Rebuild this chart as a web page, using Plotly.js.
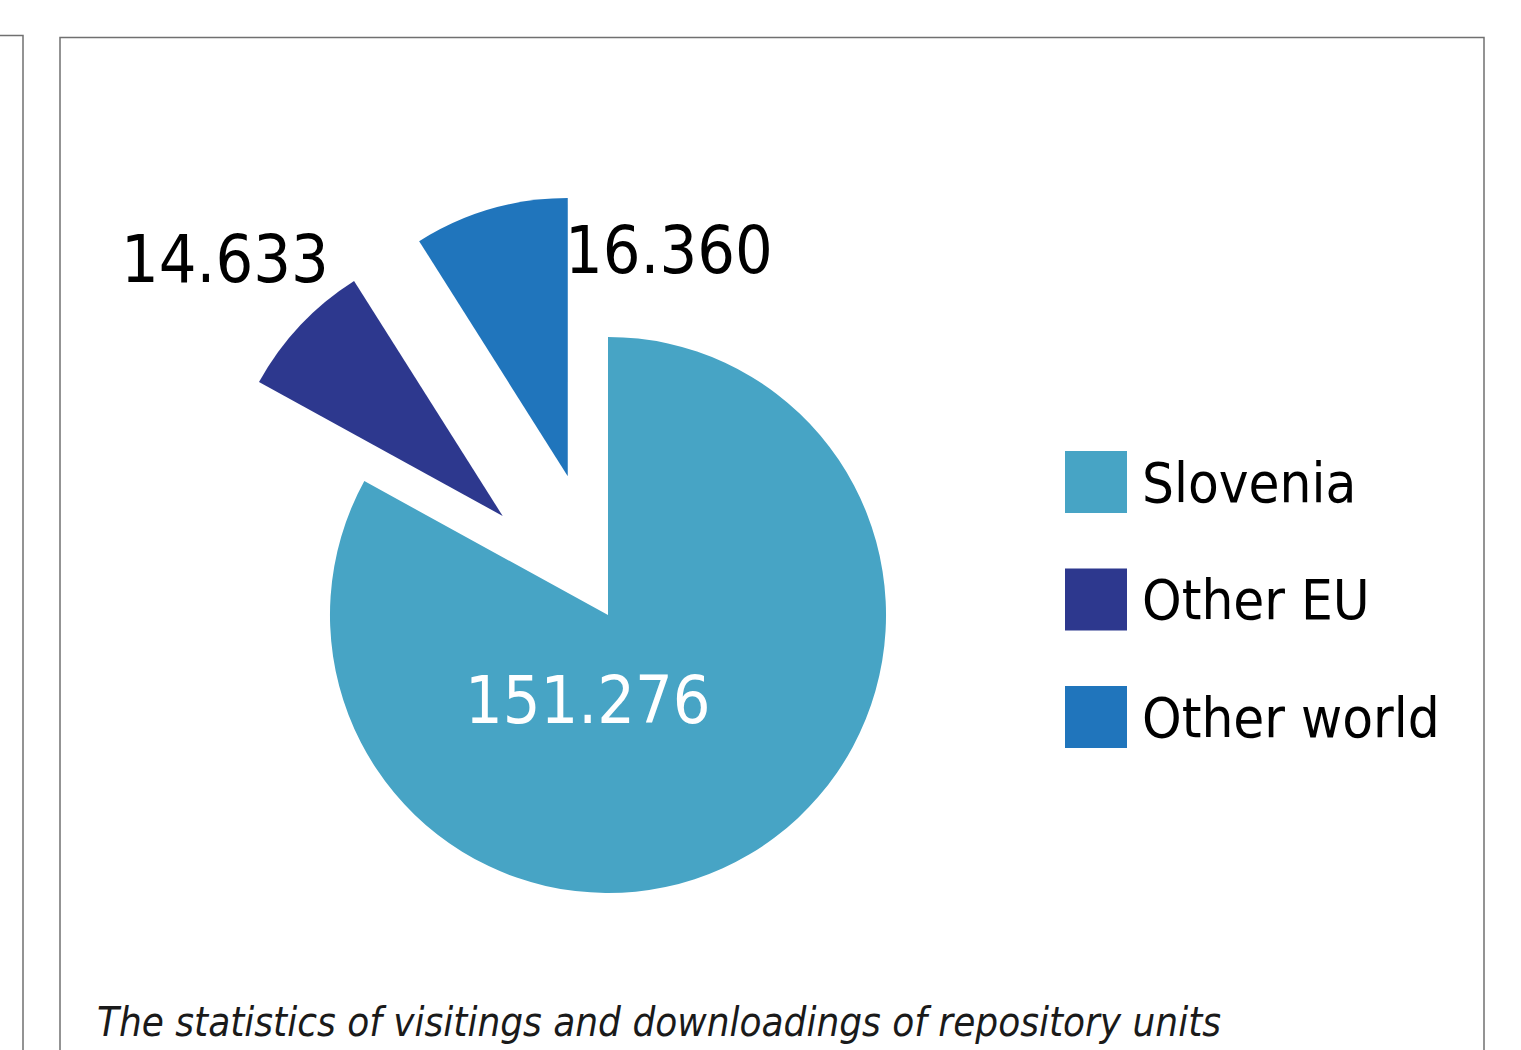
<!DOCTYPE html>
<html><head><meta charset="utf-8">
<script src="https://cdn.plot.ly/plotly-3.0.1.min.js"></script>
<style>html,body{margin:0;padding:0;background:#fff;overflow:hidden;} #chart{width:1521px;height:1050px;}</style>
</head><body><div id="chart"></div>
<script>
// ---- data ----
const categories = ['Slovenia', 'Other EU', 'Other world'];
const values = [151276, 14633, 16360];
const colors = ['#47A4C5', '#2D388E', '#2075BC'];
const pulls = [0, 0.52, 0.52];
const caption = 'The statistics of visitings and downloadings of repository units';

// ---- layout helpers ----
const W = 1521, H = 1050;
const px = x => x / W, py = y => 1 - y / H;
function fmt(v) { return String(v).replace(/\B(?=(\d{3})+(?!\d))/g, '.'); }
const FONT = '"Liberation Sans Narrow","DejaVu Sans Condensed","Arial Narrow",sans-serif';

// pie geometry (center and half-size of domain in pixels)
const cx = 608, cy = 615, half = 422.6;

const trace = {
  type: 'pie',
  labels: categories,
  values: values,
  marker: { colors: colors, line: { width: 0 } },
  pull: pulls,
  sort: false,
  direction: 'clockwise',
  rotation: 0,
  textinfo: 'none',
  hoverinfo: 'skip',
  showlegend: false,
  domain: { x: [px(cx - half), px(cx + half)], y: [py(cy + half), py(cy - half)] }
};

// value label positions (pixel centres) and colours
const labelPos = [[587, 700], [225, 259], [669, 250]];
const labelColors = ['#ffffff', '#000000', '#000000'];

const annotations = [];
values.forEach((v, i) => {
  annotations.push({
    xref: 'paper', yref: 'paper', x: px(labelPos[i][0]), y: py(labelPos[i][1]),
    xanchor: 'center', yanchor: 'middle', showarrow: false,
    text: fmt(v), font: { family: FONT, size: 66, color: labelColors[i] }
  });
});

// custom legend
const legX = 1065, legSize = 62, legTop = 451, legStep = 117.5, legTextX = 1140;
const shapes = [];
categories.forEach((c, i) => {
  const y0 = legTop + i * legStep;
  shapes.push({
    type: 'rect', xref: 'paper', yref: 'paper',
    x0: px(legX), x1: px(legX + legSize), y0: py(y0 + legSize), y1: py(y0),
    fillcolor: colors[i], line: { width: 0 }
  });
  annotations.push({
    xref: 'paper', yref: 'paper', x: px(legTextX), y: py(y0 + legSize / 2),
    xanchor: 'left', yanchor: 'middle', showarrow: false,
    text: c, font: { family: FONT, size: 56, color: '#000' }
  });
});

// caption
annotations.push({
  xref: 'paper', yref: 'paper', x: px(95), y: py(1022),
  xanchor: 'left', yanchor: 'middle', showarrow: false,
  text: caption, font: { family: FONT, size: 40, style: 'italic', color: '#1a1a1a' }
});

// frame lines
const frameColor = '#707070';
shapes.push({ type: 'path', xref: 'paper', yref: 'paper',
  path: `M ${px(60)} ${py(1070)} L ${px(60)} ${py(37.5)} L ${px(1484)} ${py(37.5)} L ${px(1484)} ${py(1070)}`,
  line: { color: frameColor, width: 1.5 } });
shapes.push({ type: 'path', xref: 'paper', yref: 'paper',
  path: `M ${px(-5)} ${py(35.5)} L ${px(23)} ${py(35.5)} L ${px(23)} ${py(1070)}`,
  line: { color: frameColor, width: 1.5 } });

const layout = {
  width: W, height: H,
  margin: { l: 0, r: 0, t: 0, b: 0 },
  paper_bgcolor: '#ffffff',
  showlegend: false,
  annotations: annotations,
  shapes: shapes
};

Plotly.newPlot('chart', [trace], layout, { displayModeBar: false, staticPlot: true });
</script>
</body></html>
